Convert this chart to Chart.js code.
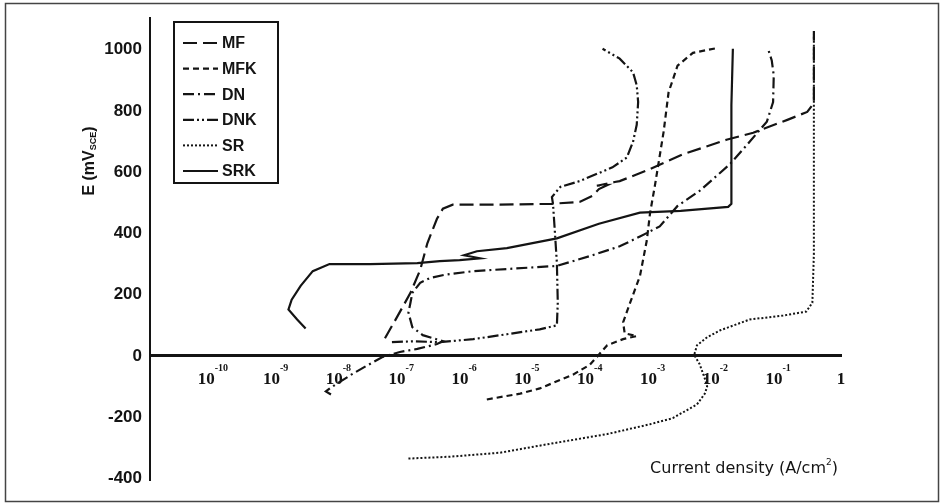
<!DOCTYPE html>
<html>
<head>
<meta charset="utf-8">
<script src="https://cdn.jsdelivr.net/npm/chart.js@4.4.1/dist/chart.umd.min.js"></script>
<style>
  html, body { margin: 0; padding: 0; background: #fff; }
  canvas { display: block; }
</style>
</head>
<body>
<canvas id="myChart" width="942" height="504"></canvas>
<script>
// polarisation curves: current density (A/cm2) against potential (mV vs SCE)
var seriesNames = ["MF", "MFK", "DN", "DNK", "SR", "SRK"];
var xDecades = [-10, -9, -8, -7, -6, -5, -4, -3, -2, -1, 0];
var yTicks = [-400, -200, 0, 200, 400, 600, 800, 1000];

var mfCurrent = [5.5e-8, 8.5e-8, 1.4e-7, 2.0e-7, 2.6e-7, 3.7e-7, 4.6e-7, 6.6e-7, 3.7e-6, 2.5e-5, 6.9e-5, 1.1e-4, 1.4e-4, 1.9e-4, 1.3e-4, 2.5e-4, 3.0e-4, 8.1e-4, 3.0e-3, 1.5e-2, 4.0e-2, 1.4e-1, 2.9e-1, 3.7e-1, 3.7e-1];
var mfPotential = [58, 126, 206, 281, 368, 448, 481, 494, 494, 497, 503, 523, 545, 558, 556, 568, 571, 606, 658, 706, 729, 771, 797, 826, 1061];

var mfkCurrent = [2.3e-6, 7.8e-6, 1.6e-5, 5.4e-5, 1.0e-4, 1.3e-4, 1.9e-4, 3.4e-4, 5.6e-4, 3.6e-4, 3.4e-4, 4.4e-4, 6.3e-4, 8.1e-4, 9.1e-4, 1.1e-3, 1.5e-3, 1.8e-3, 2.5e-3, 4.4e-3, 1.1e-2];
var mfkPotential = [-142, -123, -106, -61, -29, -3, 35, 55, 65, 74, 110, 174, 261, 377, 465, 561, 732, 861, 948, 990, 1006];

var dnCurrent = [7.6e-9, 6.3e-9, 7.6e-9, 1.6e-8, 2.8e-8, 5.1e-8, 9.5e-8, 1.8e-7, 3.7e-7, 4.6e-7, 3.2e-7, 2.2e-7, 1.5e-7, 1.3e-7, 1.4e-7, 1.5e-7, 2.0e-7, 2.9e-7, 4.9e-7, 1.4e-6, 4.8e-6, 3.0e-5, 1.0e-4, 3.0e-4, 6.3e-4, 1.3e-3, 2.5e-3, 5.6e-3, 1.7e-2, 3.2e-2, 6.6e-2, 8.3e-2, 8.5e-2, 7.9e-2, 6.9e-2];
var dnPotential = [-126, -116, -103, -61, -32, -3, 13, 23, 39, 48, 58, 68, 94, 142, 174, 206, 239, 255, 265, 277, 284, 294, 326, 358, 390, 423, 490, 539, 626, 690, 765, 829, 916, 965, 1003];

var dnkCurrent = [7.1e-8, 1.5e-7, 4.1e-7, 1.4e-6, 4.8e-6, 1.6e-5, 3.0e-5, 3.1e-5, 3.0e-5, 2.8e-5, 2.6e-5, 2.5e-5, 3.4e-5, 6.9e-5, 2.3e-4, 3.9e-4, 4.9e-4, 5.6e-4, 5.9e-4, 5.6e-4, 4.9e-4, 3.0e-4, 1.6e-4];
var dnkPotential = [45, 48, 45, 55, 71, 87, 100, 174, 303, 400, 497, 519, 552, 571, 616, 648, 700, 755, 829, 884, 926, 971, 1003];

var srCurrent = [1.3e-7, 5.9e-7, 3.7e-6, 2.3e-5, 1.9e-4, 9.1e-4, 2.1e-3, 5.1e-3, 6.8e-3, 7.4e-3, 6.8e-3, 5.6e-3, 4.6e-3, 5.1e-3, 7.4e-3, 1.2e-2, 3.5e-2, 1.2e-1, 2.8e-1, 3.5e-1, 3.7e-1, 3.7e-1, 3.7e-1];
var srPotential = [-335, -329, -316, -287, -255, -223, -203, -158, -123, -100, -74, -26, 3, 35, 61, 84, 119, 132, 145, 174, 335, 658, 1050];

var srkCurrent = [3.0e-9, 2.2e-9, 1.6e-9, 1.8e-9, 2.5e-9, 3.9e-9, 7.2e-9, 3.2e-8, 1.8e-7, 4.1e-7, 8.5e-7, 1.8e-6, 1.0e-6, 1.6e-6, 4.8e-6, 3.0e-5, 1.4e-4, 6.3e-4, 2.8e-3, 1.6e-2, 1.8e-2, 1.8e-2, 1.9e-2];
var srkPotential = [90, 119, 152, 184, 229, 277, 300, 300, 303, 310, 313, 319, 329, 342, 352, 384, 432, 468, 474, 487, 497, 819, 1003];

var currents = [mfCurrent, mfkCurrent, dnCurrent, dnkCurrent, srCurrent, srkCurrent];
var potentials = [mfPotential, mfkPotential, dnPotential, dnkPotential, srPotential, srkPotential];
var dashes = [[14, 6], [6, 4], [11, 4, 2, 4], [11, 3, 2, 3, 2, 3], [2, 2], []];
var widths = [2.2, 2.2, 2.2, 2.2, 2, 2.2];
var ink = '#141414';

function toPoints(xs, ys){
  var pts = [];
  for (var i = 0; i < xs.length; i++) {
    pts.push({x: xs[i], y: ys[i]});
  }
  return pts;
}

var datasets = seriesNames.map(function(name, i){
  return {
    label: name,
    data: toPoints(currents[i], potentials[i]),
    showLine: true,
    borderColor: ink,
    borderWidth: widths[i],
    borderDash: dashes[i],
    pointRadius: 0,
    tension: 0,
    fill: false
  };
});

var decorations = {
  id: 'decorations',
  beforeDraw: function(chart){
    var ctx = chart.ctx;
    ctx.save();
    ctx.fillStyle = '#fff';
    ctx.fillRect(0, 0, chart.width, chart.height);
    ctx.restore();
  },
  afterDraw: function(chart){
    var ctx = chart.ctx;
    var xs = chart.scales.x, ys = chart.scales.y;
    ctx.save();
    // outer frame
    ctx.strokeStyle = '#444';
    ctx.lineWidth = 1.5;
    ctx.strokeRect(5.5, 3.5, 933, 498);

    // x tick labels as 10^n
    var base = ys.getPixelForValue(0) + 28;
    ctx.fillStyle = ink;
    ctx.textBaseline = 'alphabetic';
    xs.ticks.forEach(function(t){
      var px = xs.getPixelForValue(t.value);
      var e = Math.round(Math.log10(t.value));
      if (e === 0) {
        ctx.font = 'bold 17px "Liberation Serif"';
        ctx.textAlign = 'center';
        ctx.fillText('1', px, base);
        return;
      }
      ctx.font = 'bold 17px "Liberation Serif"';
      var w1 = ctx.measureText('10').width;
      ctx.font = 'bold 10px "Liberation Serif"';
      var sup = String(e);
      var w2 = ctx.measureText(sup).width;
      var left = px - (w1 + w2) / 2;
      ctx.textAlign = 'left';
      ctx.font = 'bold 17px "Liberation Serif"';
      ctx.fillText('10', left, base);
      ctx.font = 'bold 10px "Liberation Serif"';
      ctx.fillText(sup, left + w1, base - 13);
    });

    // x axis title
    ctx.font = '16px "DejaVu Sans"';
    ctx.textAlign = 'left';
    var t1 = 'Current density (A/cm';
    var tw = ctx.measureText(t1).width;
    ctx.font = '9px "DejaVu Sans"';
    var sw = ctx.measureText('2').width;
    ctx.font = '16px "DejaVu Sans"';
    var cw = ctx.measureText(')').width;
    var tx = 744 - (tw + sw + cw) / 2;
    ctx.fillText(t1, tx, 473);
    ctx.font = '9px "DejaVu Sans"';
    ctx.fillText('2', tx + tw, 465);
    ctx.font = '16px "DejaVu Sans"';
    ctx.fillText(')', tx + tw + sw, 473);

    // y axis title, rotated
    ctx.save();
    ctx.translate(90, 161);
    ctx.rotate(-Math.PI / 2);
    ctx.textBaseline = 'middle';
    ctx.font = 'bold 16px "Liberation Sans"';
    var a = 'E (mV';
    var wa = ctx.measureText(a).width;
    ctx.font = 'bold 9px "Liberation Sans"';
    var wb = ctx.measureText('SCE').width;
    ctx.font = 'bold 16px "Liberation Sans"';
    var wc = ctx.measureText(')').width;
    var sx = -(wa + wb + wc) / 2;
    ctx.fillText(a, sx, 0);
    ctx.font = 'bold 9px "Liberation Sans"';
    ctx.fillText('SCE', sx + wa, 4);
    ctx.font = 'bold 16px "Liberation Sans"';
    ctx.fillText(')', sx + wa + wb, 0);
    ctx.restore();

    // legend box
    ctx.lineWidth = 2;
    ctx.strokeStyle = ink;
    ctx.strokeRect(174, 22, 104, 161);
    ctx.textAlign = 'left';
    ctx.textBaseline = 'middle';
    ctx.font = 'bold 16px "Liberation Sans"';
    chart.data.datasets.forEach(function(ds, i){
      var ly = 43 + i * 25.6;
      ctx.beginPath();
      ctx.setLineDash(ds.borderDash);
      ctx.lineWidth = ds.borderWidth;
      ctx.moveTo(183, ly);
      ctx.lineTo(218, ly);
      ctx.stroke();
      ctx.setLineDash([]);
      ctx.fillText(ds.label, 222, ly + 1);
    });
    ctx.restore();
  }
};

var ctx = document.getElementById('myChart').getContext('2d');
var chart = new Chart(ctx, {
  type: 'scatter',
  data: { datasets: datasets },
  options: {
    responsive: false,
    animation: false,
    devicePixelRatio: 1,
    layout: { padding: { left: 0, right: 101, top: 12, bottom: 24 } },
    plugins: {
      legend: { display: false },
      tooltip: { enabled: false }
    },
    scales: {
      x: {
        type: 'logarithmic',
        min: 1e-11,
        max: 1,
        position: { y: 0 },
        afterBuildTicks: function(scale){
          scale.ticks = xDecades.map(function(e){ return { value: Math.pow(10, e) }; });
        },
        ticks: { display: false },
        grid: { display: false, drawTicks: false },
        border: { display: true, color: ink, width: 3 }
      },
      y: {
        type: 'linear',
        min: -405,
        max: 1103,
        afterBuildTicks: function(scale){
          scale.ticks = yTicks.map(function(v){ return { value: v }; });
        },
        afterFit: function(scale){ scale.width = 150; },
        ticks: {
          color: ink,
          padding: 8,
          font: { family: '"Liberation Sans"', size: 17, weight: 'bold' },
          callback: function(v){ return String(v); }
        },
        grid: { display: false, drawTicks: false },
        border: { display: true, color: ink, width: 2 }
      }
    }
  },
  plugins: [decorations]
});
</script>
</body>
</html>
